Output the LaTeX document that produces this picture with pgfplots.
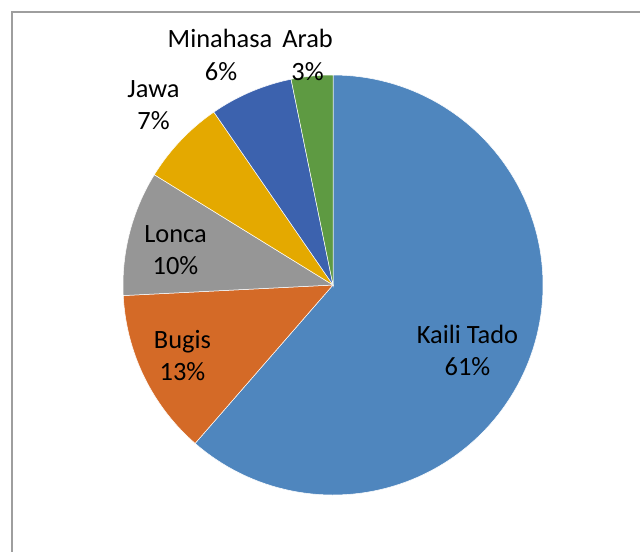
\documentclass[border=0pt]{standalone}
\usepackage{pgfplots}
\pgfplotsset{compat=1.18}
\usepackage{pgfplotstable}
\usepackage{fontspec}
\setmainfont{Carlito}

\definecolor{ckaili}{HTML}{4F86BE}
\definecolor{cbugis}{HTML}{D46A27}
\definecolor{clonca}{HTML}{969696}
\definecolor{cjawa}{HTML}{E4A900}
\definecolor{cminahasa}{HTML}{3C62AE}
\definecolor{carab}{HTML}{5E9A42}

\pgfplotstableread{
name value
KailiTado 61.4
Bugis 12.8
Lonca 9.6
Jawa 6.6
Minahasa 6.4
Arab 3.2
}\piedata

\begin{document}
\begin{tikzpicture}
\pgfplotstablegetelem{0}{value}\of\piedata \pgfmathsetmacro\aA{3.6*\pgfplotsretval}
\pgfplotstablegetelem{1}{value}\of\piedata \pgfmathsetmacro\aB{\aA+3.6*\pgfplotsretval}
\pgfplotstablegetelem{2}{value}\of\piedata \pgfmathsetmacro\aC{\aB+3.6*\pgfplotsretval}
\pgfplotstablegetelem{3}{value}\of\piedata \pgfmathsetmacro\aD{\aC+3.6*\pgfplotsretval}
\pgfplotstablegetelem{4}{value}\of\piedata \pgfmathsetmacro\aE{\aD+3.6*\pgfplotsretval}
\pgfplotstablegetelem{5}{value}\of\piedata \pgfmathsetmacro\aF{\aE+3.6*\pgfplotsretval}
\begin{axis}[x=0.5pt, y=0.5pt, y dir=reverse, xmin=0, xmax=640, ymin=0, ymax=551,
  hide axis, scale only axis, clip=false]
\coordinate (bl) at (axis cs:0,551);
\coordinate (tr) at (axis cs:640,0);
\draw[color=black!38, line width=1pt] (axis cs:12,700) -- (axis cs:12,11.5) -- (axis cs:800,11.5);
\pgfplotsset{slice/.style={draw=white, line width=0.25pt, samples=120}}
\addplot[slice, fill=ckaili, domain=0:\aA] ({333+210*sin(x)},{285-210*cos(x)}) -- (axis cs:333,285) -- cycle;
\addplot[slice, fill=cbugis, domain=\aA:\aB] ({333+210*sin(x)},{285-210*cos(x)}) -- (axis cs:333,285) -- cycle;
\addplot[slice, fill=clonca, domain=\aB:\aC] ({333+210*sin(x)},{285-210*cos(x)}) -- (axis cs:333,285) -- cycle;
\addplot[slice, fill=cjawa, domain=\aC:\aD] ({333+210*sin(x)},{285-210*cos(x)}) -- (axis cs:333,285) -- cycle;
\addplot[slice, fill=cminahasa, domain=\aD:\aE] ({333+210*sin(x)},{285-210*cos(x)}) -- (axis cs:333,285) -- cycle;
\addplot[slice, fill=carab, domain=\aE:\aF] ({333+210*sin(x)},{285-210*cos(x)}) -- (axis cs:333,285) -- cycle;
\tikzset{lab/.style={anchor=base, inner sep=0pt, font=\fontsize{13.2}{16}\selectfont}}
\node[lab] at (axis cs:467.5,343) {Kaili Tado};
\node[lab] at (axis cs:467.5,375) {61\%};
\node[lab] at (axis cs:182.5,348) {Bugis};
\node[lab] at (axis cs:182.5,380) {13\%};
\node[lab] at (axis cs:175.5,242) {Lonca};
\node[lab] at (axis cs:175.5,274) {10\%};
\node[lab] at (axis cs:153.5,97) {Jawa};
\node[lab] at (axis cs:153.5,129) {7\%};
\node[lab] at (axis cs:220,47) {Minahasa};
\node[lab] at (axis cs:221,80) {6\%};
\node[lab] at (axis cs:307.5,47) {Arab};
\node[lab] at (axis cs:307.5,80) {3\%};
\end{axis}
\pgfresetboundingbox
\path[use as bounding box] (bl) rectangle (tr);
\end{tikzpicture}
\end{document}
